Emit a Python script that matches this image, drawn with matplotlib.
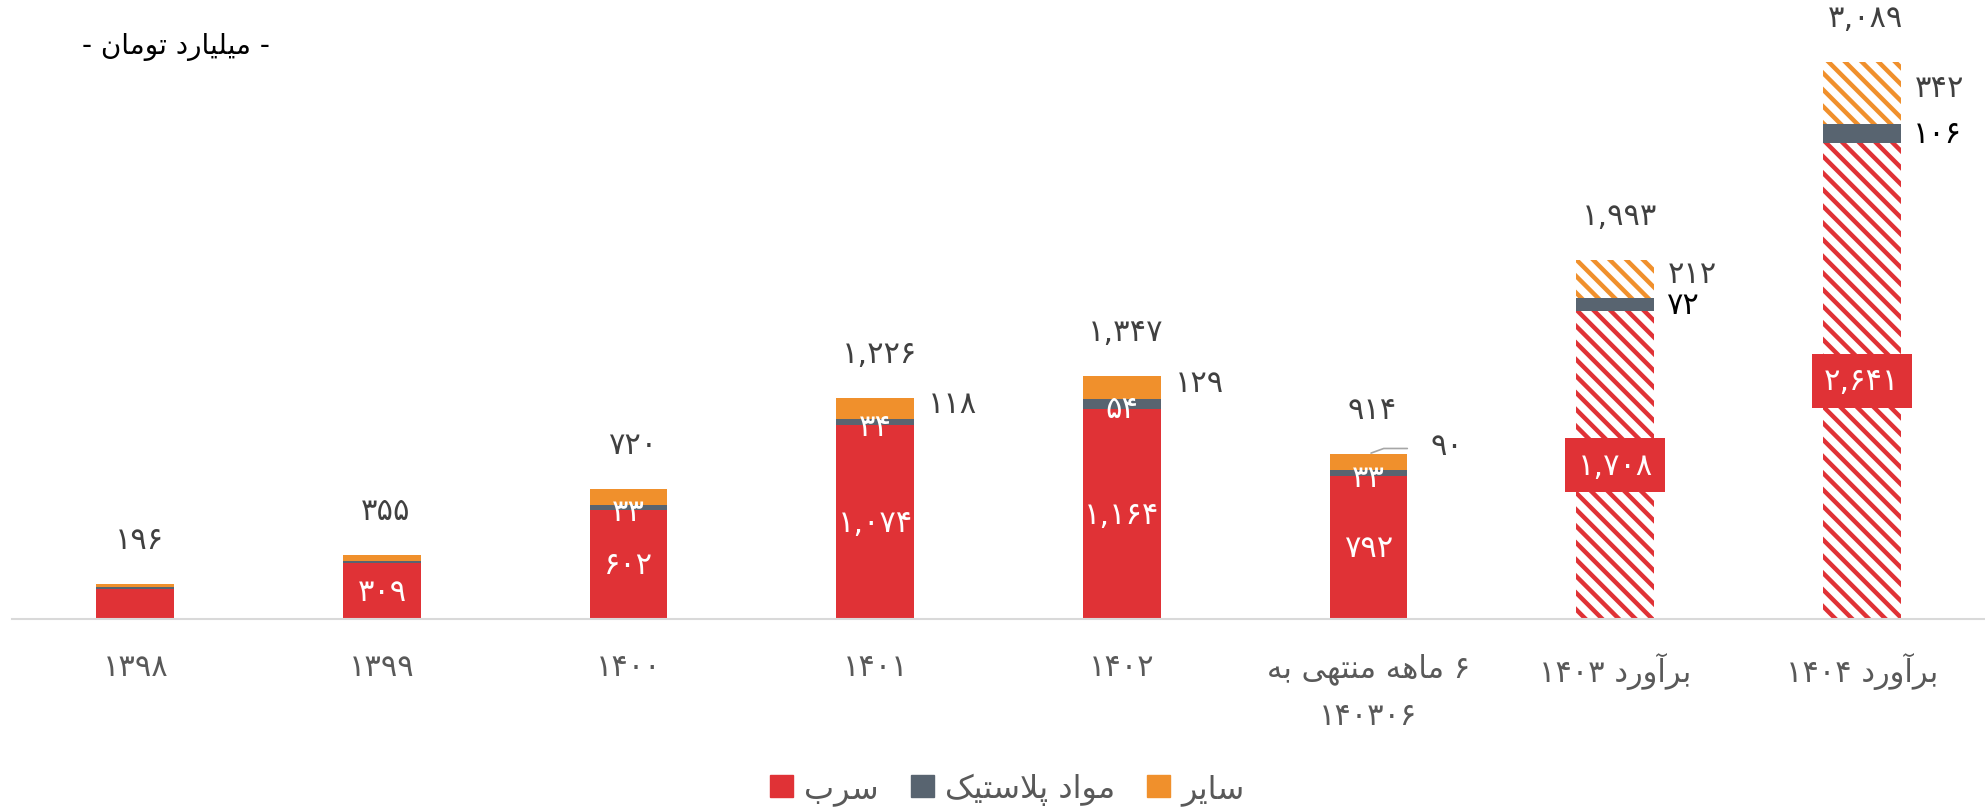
import matplotlib
matplotlib.use("Agg")
import numpy as np
from matplotlib import pyplot as plt
from matplotlib.patches import Patch

# ---- data ----
categories = ["۱۳۹۸", "۱۳۹۹", "۱۴۰۰", "۱۴۰۱", "۱۴۰۲", "۶ ماهه منتهی به\n۱۴۰۳۰۶", "برآورد ۱۴۰۳", "برآورد ۱۴۰۴"]
lead = [165, 309, 602, 1074, 1164, 792, 1708, 2641]
plastic = [12, 12, 33, 34, 54, 33, 72, 106]
other = [19, 34, 85, 118, 129, 90, 212, 342]
totals = [196, 355, 720, 1226, 1347, 914, 1993, 3089]
forecast = [False, False, False, False, False, False, True, True]
show_lead = [False, True, True, True, True, True, True, True]
show_plastic = [False, False, True, True, True, True, True, True]
show_other = [False, False, False, True, True, True, True, True]
series_names = ["سرب", "مواد پلاستیک", "سایر"]
unit_title = "- میلیارد تومان -"

RED = "#E03236"
GREY = "#586470"
ORANGE = "#F0902C"
TXT = "#404040"

# ---- minimal Persian shaping (matplotlib has no bidi/shaping) ----
# forms: isolated, final, initial, medial
FORMS = {
    "ا": ("\uFE8D", "\uFE8E", None, None),
    "آ": ("\uFE81", "\uFE82", None, None),
    "ب": ("\uFE8F", "\uFE90", "\uFE91", "\uFE92"),
    "ت": ("\uFE95", "\uFE96", "\uFE97", "\uFE98"),
    "پ": ("\uFB56", "\uFB57", "\uFB58", "\uFB59"),
    "د": ("\uFEA9", "\uFEAA", None, None),
    "ر": ("\uFEAD", "\uFEAE", None, None),
    "س": ("\uFEB1", "\uFEB2", "\uFEB3", "\uFEB4"),
    "ک": ("\uFB8E", "\uFB8F", "\uFB90", "\uFB91"),
    "ل": ("\uFEDD", "\uFEDE", "\uFEDF", "\uFEE0"),
    "م": ("\uFEE1", "\uFEE2", "\uFEE3", "\uFEE4"),
    "ن": ("\uFEE5", "\uFEE6", "\uFEE7", "\uFEE8"),
    "ه": ("\uFEE9", "\uFEEA", "\uFEEB", "\uFEEC"),
    "و": ("\uFEED", "\uFEEE", None, None),
    "ی": ("\uFBFC", "\uFBFD", "\uFBFE", "\uFBFF"),
    "LA": ("\uFEFB", "\uFEFC", None, None),
}


def shape_word(word):
    chars = []
    i = 0
    while i < len(word):
        if word[i] == "ل" and i + 1 < len(word) and word[i + 1] == "ا":
            chars.append("LA")
            i += 2
        else:
            chars.append(word[i])
            i += 1
    out = []
    for k, c in enumerate(chars):
        if c not in FORMS:
            out.append(c)
            continue
        f = FORMS[c]
        prev = chars[k - 1] if k > 0 else None
        nxt = chars[k + 1] if k + 1 < len(chars) else None
        jp = prev in FORMS and FORMS[prev][2] is not None
        jn = nxt in FORMS and f[2] is not None
        if jp and jn:
            out.append(f[3])
        elif jp:
            out.append(f[1])
        elif jn:
            out.append(f[2])
        else:
            out.append(f[0])
    return "".join(out[::-1])


def fa(text):
    lines = []
    for line in text.split("\n"):
        words = line.split(" ")
        words = [shape_word(w) if any(ch in FORMS for ch in w) else w for w in words]
        lines.append(" ".join(words[::-1]))
    return "\n".join(lines)


def num(v):
    s = f"{v:,}"
    return s.translate(str.maketrans("0123456789", "۰۱۲۳۴۵۶۷۸۹"))


plt.rcParams["font.family"] = ["DejaVu Sans"]
plt.rcParams["hatch.linewidth"] = 3.2

fig = plt.figure(figsize=(19.85, 8.12), dpi=100)
ax = fig.add_axes([12 / 1985, 1 - 620 / 812, 1 - 12 / 1985, 620 / 812])

x = np.arange(len(categories))
w = 0.315
lead = np.array(lead)
plastic = np.array(plastic)
other = np.array(other)

for i in range(len(categories)):
    if forecast[i]:
        ax.bar(x[i], lead[i], w, color="white", edgecolor=RED, hatch="\\\\", linewidth=0)
        ax.bar(x[i], plastic[i], w, bottom=lead[i], color=GREY, linewidth=0)
        ax.bar(x[i], other[i], w, bottom=lead[i] + plastic[i], color="white",
               edgecolor=ORANGE, hatch="\\\\", linewidth=0)
    else:
        ax.bar(x[i], lead[i], w, color=RED, linewidth=0)
        ax.bar(x[i], plastic[i], w, bottom=lead[i], color=GREY, linewidth=0)
        ax.bar(x[i], other[i], w, bottom=lead[i] + plastic[i], color=ORANGE, linewidth=0)

FS = 22
for i in range(len(categories)):
    # totals
    ax.annotate(num(totals[i]), (x[i], lead[i] + plastic[i] + other[i]), xytext=(3, 32),
                textcoords="offset points", ha="center", va="center", fontsize=FS, color=TXT)
    if show_lead[i]:
        if forecast[i]:
            ax.text(x[i], lead[i] / 2, num(lead[i]), ha="center", va="center", fontsize=FS,
                    color="white", bbox=dict(boxstyle="square,pad=0.4", fc=RED, ec="none"))
        else:
            ax.text(x[i], lead[i] / 2, num(lead[i]), ha="center", va="center", fontsize=FS,
                    color="white")
    if show_plastic[i]:
        yc = lead[i] + plastic[i] / 2
        if forecast[i]:
            ax.annotate(num(plastic[i]), (x[i] + w / 2, yc), xytext=(9, 0), textcoords="offset points",
                        ha="left", va="center", fontsize=FS, color="black")
        else:
            ax.annotate(num(plastic[i]), (x[i], yc), xytext=(0, -3), textcoords="offset points",
                        ha="center", va="center", fontsize=FS, color="white")
    if show_other[i]:
        top = lead[i] + plastic[i] + other[i]
        yc = top - other[i] / 2
        if i == 5:
            ax.annotate(num(other[i]), (x[i], top), xytext=(45, 6), textcoords="offset points",
                        ha="left", va="center", fontsize=FS, color=TXT)
            ax.annotate("", (x[i], top), xytext=(30, 4), textcoords="offset points",
                        arrowprops=dict(arrowstyle="-", color="#a6a6a6", lw=1.2,
                                        connectionstyle="angle,angleA=0,angleB=20,rad=0"))
        else:
            ax.annotate(num(other[i]), (x[i] + w / 2, yc), xytext=(10, 4), textcoords="offset points",
                        ha="left", va="center", fontsize=FS, color=TXT)

ax.set_xlim(-0.5, len(categories) - 0.5)
ax.set_ylim(0, 3439)
ax.set_xticks(x)
ax.set_xticklabels([fa(c) for c in categories], fontsize=FS, color="#595959", linespacing=1.75)
ax.tick_params(axis="x", length=0, pad=24)
ax.set_yticks([])
for s in ["top", "left", "right"]:
    ax.spines[s].set_visible(False)
ax.spines["bottom"].set_color("#d9d9d9")
ax.spines["bottom"].set_linewidth(1.5)

fig.text(82 / 1985, 1 - 47 / 812, fa(unit_title), ha="left", va="center", fontsize=20, color="black")

handles = [Patch(color=c) for c in [RED, GREY, ORANGE]]
fig.legend(handles, [fa(s) for s in series_names], loc="center", bbox_to_anchor=(1007 / 1985, 1 - 790 / 812),
           ncol=3, frameon=False, fontsize=23, labelcolor="#595959", handlelength=0.72, handleheight=0.72,
           handletextpad=0.35, columnspacing=1.0)

fig.savefig("out.png", dpi=100)
